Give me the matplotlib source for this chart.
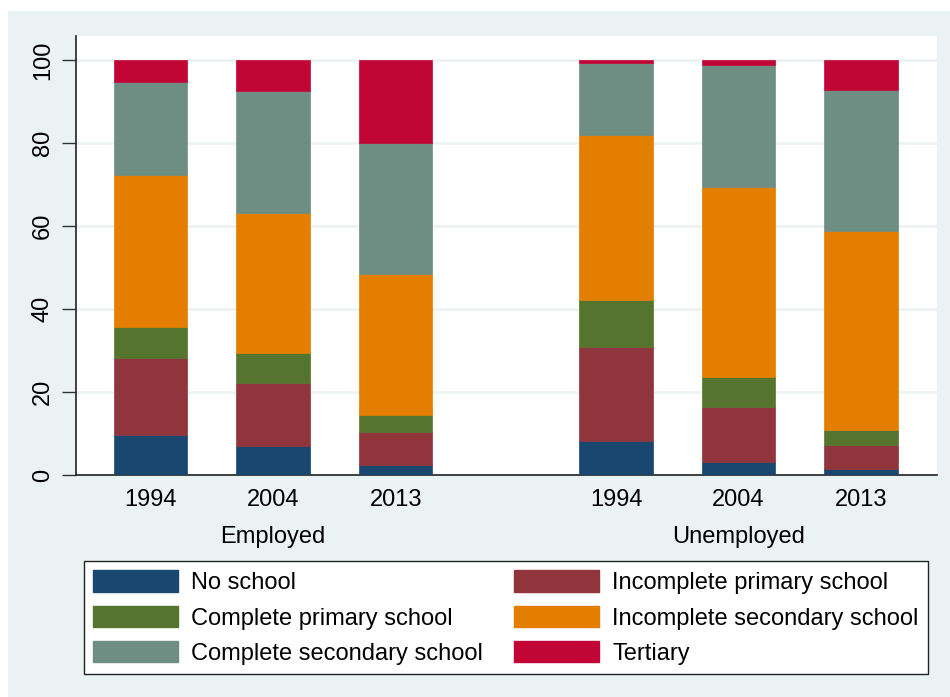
import matplotlib
matplotlib.use("Agg")
import matplotlib.pyplot as plt
from matplotlib.patches import Patch, Rectangle
from matplotlib.transforms import blended_transform_factory
import numpy as np

plt.rcParams['font.family'] = ['Liberation Sans', 'DejaVu Sans']

# shares (%) by education level, bottom to top of each stacked bar
groups = ['Employed', 'Unemployed']
years = ['1994', '2004', '2013']
levels = ['No school', 'Incomplete primary school', 'Complete primary school',
          'Incomplete secondary school', 'Complete secondary school', 'Tertiary']

# order: emp 1994, 2004, 2013, unemp 1994, 2004, 2013
no_school      = [9.6, 7.0, 2.4, 8.2, 3.1, 1.4]
incomp_primary = [18.6, 15.3, 7.9, 22.7, 13.3, 5.8]
comp_primary   = [7.6, 7.2, 4.2, 11.2, 7.2, 3.7]
incomp_second  = [36.5, 33.6, 34.1, 39.8, 45.9, 47.9]
comp_second    = [22.6, 29.5, 31.4, 17.4, 29.5, 34.0]
tertiary       = [5.1, 7.4, 20.0, 0.7, 1.0, 7.2]

series = [no_school, incomp_primary, comp_primary, incomp_second, comp_second, tertiary]
colors = ['#1A476F', '#90353B', '#55752F', '#E37E00', '#6E8E84', '#C10534']

bg = '#EAF2F3'
fig = plt.figure(figsize=(9.5, 6.97), dpi=100)
fig.patch.set_facecolor('white')
fig.patches.append(Rectangle((8/950, 0), 1, 1 - 11/697, transform=fig.transFigure,
                             facecolor=bg, edgecolor='none', zorder=-10))

ax = fig.add_axes([76/950, 1 - 475/697, 861/950, 439/697])
ax.set_facecolor('white')

x = np.array([0, 1, 2, 3.8, 4.8, 5.8])
bottom = np.zeros(len(x))
for vals, c, lab in zip(series, colors, levels):
    vals = np.array(vals)
    ax.bar(x, vals, width=0.6, bottom=bottom, color=c, edgecolor=c, linewidth=0.5,
           label=lab, zorder=3)
    bottom += vals

ax.set_xlim(-0.61, 6.42)
ax.set_ylim(0, 105.9)
ax.set_yticks([0, 20, 40, 60, 80, 100])
ax.set_yticklabels(['0', '20', '40', '60', '80', '100'], rotation=90, va='center')
ax.tick_params(axis='y', length=10, width=1, color='#333333', labelsize=17, pad=6)
ax.set_xticks(x)
ax.set_xticklabels(years * 2)
ax.tick_params(axis='x', length=0, labelsize=17, pad=10)
ax.grid(axis='y', color=bg, linewidth=1.8, zorder=0)
for s in ['top', 'right']:
    ax.spines[s].set_visible(False)
for s in ['left', 'bottom']:
    ax.spines[s].set_color('#222222')
    ax.spines[s].set_linewidth(1.2)

tr = blended_transform_factory(ax.transData, fig.transFigure)
for g, cx in zip(groups, [x[1], x[4]]):
    ax.text(cx, 1 - 537/697, g, transform=tr, ha='center', va='center', fontsize=17)

# legend filled row by row like the original
order = [0, 2, 4, 1, 3, 5]
handles = [Patch(facecolor=colors[i], edgecolor=colors[i]) for i in order]
labels = [levels[i] for i in order]
leg = fig.legend(handles, labels, ncol=2, loc='upper left', mode='expand',
                 bbox_to_anchor=(84/950, 1 - 561/697, 844/950, 0), fontsize=17,
                 frameon=True, fancybox=False, edgecolor='#222222', framealpha=1,
                 handlelength=3.6, handleheight=1.0, handletextpad=0.55,
                 labelspacing=0.5, borderpad=0.4, borderaxespad=0)
leg.get_frame().set_linewidth(1.0)

fig.savefig('out.png', dpi=100, facecolor=fig.get_facecolor())
